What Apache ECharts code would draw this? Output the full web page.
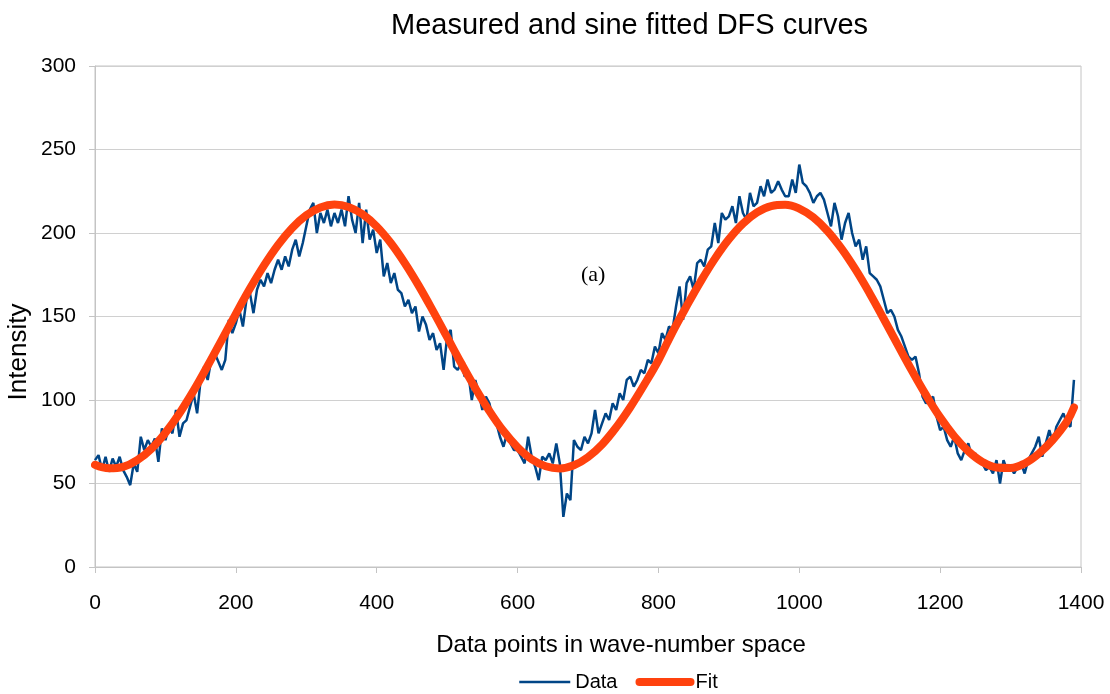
<!DOCTYPE html>
<html>
<head>
<meta charset="utf-8">
<script src="https://cdn.jsdelivr.net/npm/echarts@6/dist/echarts.min.js"></script>
<style>
  html, body { margin: 0; padding: 0; background: #ffffff; }
  #chart { width: 1110px; height: 694px; }
</style>
</head>
<body>
<div id="chart"></div>
<script>
// Measured intensity, one sample every 5 data points starting at 0
const dataStep = 5;
const dataValues = [
  64, 67, 58, 66, 57, 65, 60, 66, 58, 54, 49, 62, 57, 78, 70, 76, 72, 77, 63, 83,
  76, 84, 80, 94, 78, 86, 88, 96, 104, 92, 112, 120, 112, 124, 128, 123, 118, 124, 148, 140,
  146, 154, 144, 160, 164, 152, 166, 172, 168, 176, 170, 178, 184, 178, 186, 180, 190, 196, 186, 194,
  204, 214, 218, 200, 212, 206, 214, 204, 212, 206, 214, 204, 222, 208, 200, 218, 194, 214, 196, 202,
  188, 196, 174, 182, 170, 176, 166, 164, 156, 160, 152, 156, 141, 150, 145, 136, 140, 130, 134, 118,
  138, 142, 120, 118, 122, 114, 116, 100, 112, 104, 94, 102, 98, 88, 86, 78, 72, 80, 74, 70,
  70, 66, 62, 78, 66, 60, 52, 66, 64, 68, 62, 74, 62, 30, 44, 40, 76, 72, 70, 78,
  74, 80, 94, 80, 86, 92, 88, 98, 94, 104, 100, 112, 114, 108, 112, 118, 116, 124, 122, 132,
  128, 140, 136, 144, 142, 156, 168, 148, 170, 174, 166, 182, 184, 180, 190, 192, 206, 194, 212, 208,
  210, 216, 206, 222, 212, 208, 224, 216, 218, 228, 222, 232, 224, 226, 231, 226, 222, 222, 232, 224,
  241, 230, 228, 224, 218, 222, 224, 220, 212, 204, 218, 210, 196, 206, 212, 200, 192, 196, 184, 192,
  176, 174, 172, 168, 160, 152, 154, 150, 142, 138, 132, 126, 124, 126, 116, 102, 98, 100, 102, 90,
  82, 84, 76, 72, 78, 68, 64, 70, 74, 66, 68, 64, 62, 58, 60, 56, 64, 50, 64, 58,
  60, 56, 60, 62, 56, 64, 68, 72, 78, 66, 74, 82, 74, 84, 88, 92, 86, 84, 112
];

// Sine fit, read at coarser positions
const fitX = [
  0, 20, 40, 60, 80, 100, 120, 140, 160, 180, 200, 220, 240, 260, 280, 300, 320, 340, 360, 380,
  400, 420, 440, 460, 480, 500, 520, 540, 560, 580, 600, 620, 640, 660, 680, 700, 720, 740, 760, 780,
  800, 820, 840, 860, 880, 900, 920, 940, 960, 980, 1000, 1020, 1040, 1060, 1080, 1100, 1120, 1140, 1160, 1180,
  1200, 1220, 1240, 1260, 1280, 1300, 1320, 1340, 1360, 1380, 1390
];
const fitValues = [
  61.2, 59.1, 60.0, 64.0, 70.8, 80.4, 92.1, 105.6, 120.5, 136.0, 151.6, 166.7, 180.6, 192.9, 203.0, 210.6, 215.3, 217.0, 215.6, 211.2,
  203.9, 194.0, 181.9, 168.2, 153.2, 137.6, 122.0, 107.1, 93.4, 81.4, 71.7, 64.5, 60.3, 59.0, 60.9, 65.8, 73.4, 83.6, 95.7, 109.3,
  123.8, 140.7, 156.2, 171.0, 184.5, 196.2, 205.6, 212.3, 216.1, 216.9, 214.6, 209.3, 201.2, 190.6, 178.0, 163.8, 148.5, 132.9, 117.5, 102.9,
  89.6, 78.3, 69.3, 62.9, 59.6, 59.3, 62.0, 67.8, 76.2, 87.1, 95.5
];

const xTicks = { min: 0, max: 1400, interval: 200 };
const yTicks = { min: 0, max: 300, interval: 50 };

const dataPairs = dataValues.map((v, i) => [i * dataStep, v]);
const fitPairs = fitX.map((x, i) => [x, fitValues[i]]);

const FONT = '"Liberation Sans", Arial, sans-serif';
const BLUE = '#004586';
const ORANGE = '#ff420e';
const chart = echarts.init(document.getElementById('chart'), null, { renderer: 'canvas' });

chart.setOption({
  animation: false,
  backgroundColor: '#ffffff',
  title: {
    text: 'Measured and sine fitted DFS curves',
    left: 386,
    top: 6,
    textStyle: { fontFamily: FONT, fontSize: 29, fontWeight: 'normal', color: '#000000' }
  },
  grid: {
    left: 95, right: 29, top: 66, bottom: 127,
    show: true, borderColor: '#c4c4c4', borderWidth: 1, backgroundColor: 'transparent'
  },
  legend: {
    top: 667,
    left: 513,
    itemWidth: 51,
    itemHeight: 14,
    itemGap: 18,
    textStyle: { fontFamily: FONT, fontSize: 20, color: '#000000' },
    itemStyle: { opacity: 0 },
    data: [
      { name: 'Data', lineStyle: { width: 2.5, color: BLUE } },
      { name: 'Fit', lineStyle: { width: 8, color: ORANGE, cap: 'round' } }
    ]
  },
  xAxis: {
    type: 'value',
    min: xTicks.min, max: xTicks.max, interval: xTicks.interval,
    name: 'Data points in wave-number space',
    nameLocation: 'middle',
    nameGap: 66,
    nameTextStyle: { fontFamily: FONT, fontSize: 24, color: '#000000', padding: [0, 0, 0, 66] },
    axisLine: { show: true, lineStyle: { color: '#c4c4c4', width: 1 } },
    axisTick: { show: true, inside: false, length: 6, lineStyle: { color: '#c4c4c4' } },
    axisLabel: { fontFamily: FONT, fontSize: 21, color: '#000000', margin: 26, formatter: v => String(v) },
    splitLine: { show: false }
  },
  yAxis: {
    type: 'value',
    min: yTicks.min, max: yTicks.max, interval: yTicks.interval,
    axisLine: { show: true, lineStyle: { color: '#c4c4c4', width: 1 } },
    axisTick: { show: true, inside: false, length: 6, lineStyle: { color: '#c4c4c4' } },
    axisLabel: { fontFamily: FONT, fontSize: 21, color: '#000000', margin: 19 },
    splitLine: { show: true, lineStyle: { color: '#d0d0d0', width: 1 } }
  },
  series: [
    {
      name: 'Data',
      type: 'line',
      data: dataPairs,
      symbol: 'none',
      smooth: false,
      color: BLUE,
      lineStyle: { color: BLUE, width: 2.5 },
      z: 2
    },
    {
      name: 'Fit',
      type: 'line',
      data: fitPairs,
      symbol: 'none',
      smooth: 0.4,
      color: ORANGE,
      lineStyle: { color: ORANGE, width: 8, cap: 'round', join: 'round' },
      z: 3
    }
  ],
  graphic: [
    {
      // vertical axis title
      type: 'text',
      x: 19,
      y: 352,
      rotation: Math.PI / 2,
      style: {
        text: 'Intensity',
        font: '26px "Liberation Sans", Arial, sans-serif',
        fill: '#000000',
        align: 'center',
        verticalAlign: 'middle'
      }
    },
    {
      type: 'text',
      left: 581,
      top: 264,
      style: { text: '(a)', font: '22px "Liberation Serif", "Times New Roman", serif', fill: '#000000' }
    }
  ]
});
</script>
</body>
</html>
